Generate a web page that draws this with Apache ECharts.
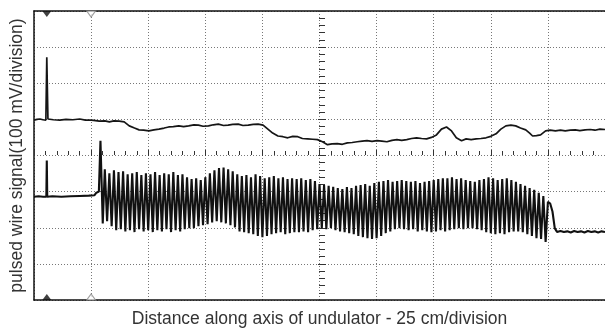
<!DOCTYPE html>
<html>
<head>
<meta charset="utf-8">
<script src="https://cdn.jsdelivr.net/npm/echarts@6/dist/echarts.min.js"></script>
<style>
  html, body { margin: 0; padding: 0; background: #fff; }
  #chart { width: 605px; height: 333px; }
</style>
</head>
<body>
<div id="chart"></div>
<script>
// x in cm along the undulator (25 cm/division), y in mV (100 mV/division)

// upper trace
const upperTrace = [
  [0, 98], [1.3, 100], [2.6, 101], [3.9, 99], [5.2, 98], [5.6, 272], [6.1, 101], [8.5, 99], [11.3, 98],
  [14, 100], [17, 99], [20, 101], [22.5, 98], [25.2, 98], [28.6, 95], [31, 96], [33, 93], [35, 96],
  [37.3, 95], [39.5, 93], [41.7, 82], [44, 76], [46, 71], [48, 70], [50.3, 68], [52.5, 71], [54.7, 73],
  [57, 76], [59, 79], [61, 80], [63.4, 82], [65.5, 80], [67.7, 82], [70, 85], [72, 84], [74, 81],
  [76.4, 82], [78.5, 85], [80.7, 87], [83, 83], [85, 84], [87, 86], [89.4, 87], [91.5, 83], [93.8, 84],
  [96, 86], [98.1, 87], [100.3, 84], [102.4, 73], [104.5, 62], [106.8, 54], [109, 52], [111.1, 49],
  [113.3, 53], [115.5, 52], [117.5, 47], [119.8, 46], [122, 45], [124.1, 44], [126.3, 38], [128.5, 30],
  [130.5, 32], [132.8, 33], [135, 31], [137.2, 35], [139.3, 36], [141.5, 38], [143.7, 40], [145.8, 41],
  [148, 39], [150.2, 41], [152.3, 40], [154.5, 38], [156.7, 42], [158.9, 44], [161, 42], [163.2, 44],
  [165.3, 47], [167.5, 49], [169.7, 47], [171.9, 46], [174, 50], [176.2, 57], [178.4, 73], [180.6, 79],
  [182.8, 68], [184.9, 49], [187.2, 41], [189.2, 46], [191.4, 44], [193.6, 46], [195.7, 47], [197.9, 49],
  [200, 53], [202.3, 60], [204.4, 73], [206.6, 82], [208.8, 84], [210.9, 82], [213, 76], [215.3, 71],
  [217, 62], [218.3, 54], [220, 55], [221.8, 57], [224, 68], [226, 70], [228.3, 68], [230.5, 70],
  [232.6, 68], [234.8, 70], [237, 71], [239, 69], [241.3, 71], [243.5, 72], [245.6, 70], [247.8, 73], [250, 72]
];

// lower trace before the field region
const lowerHead = [
  [0, -114], [2, -113], [4, -114], [5.4, -114], [5.6, -14], [5.8, -114], [8, -113], [12, -114],
  [16, -113], [20, -112], [24, -111], [26.5, -110], [27.3, -103], [28.4, -100], [29.1, 41], [30.1, -188]
];

// lower trace oscillation, one top and one bottom per undulator period
const oscStart = 31;
const oscPeriod = 2;
const oscTops = [
  -38, -49, -41, -46, -44, -52,
  -49, -46, -54, -49, -52,
  -46, -54, -49, -52, -46, -54, -52, -60,
  -65, -63, -68, -60,
  -49, -41, -35, -33, -38, -44,
  -52, -57, -54, -60, -52, -57, -63,
  -60, -57, -63, -60, -65, -63,
  -65, -63, -68, -65, -71,
  -79, -82, -84, -87,
  -90, -93, -87, -90, -84,
  -82, -79, -84, -76, -73,
  -71, -68, -73, -71, -68, -71, -73, -71, -76,
  -73, -71, -68, -65, -63,
  -63, -60, -65, -63, -68,
  -71, -73, -68, -65, -60,
  -63, -68, -65, -63, -68,
  -73, -79, -84, -90,
  -95, -103, -112
];
const oscBottoms = [
  -182, -196,
  -207, -204, -210, -207, -212, -204, -210, -207, -212,
  -207, -210, -204, -212, -207, -210, -204, -201,
  -201, -196, -193, -190,
  -185, -182, -185, -188, -193, -199,
  -210, -212, -215, -218, -223,
  -226, -223,
  -218, -215, -212, -218, -215, -212,
  -212, -210, -212, -207, -204,
  -201, -204, -201, -207,
  -210, -212, -215, -218, -223,
  -226, -229, -231, -229, -223,
  -215, -210, -204, -201, -204, -207, -204, -210, -207,
  -210, -212, -210, -207, -210,
  -207, -204, -201, -204, -201,
  -201, -204, -207, -212, -215,
  -218, -215, -218, -212, -210,
  -210, -212, -218, -223,
  -229, -231, -239
];

// lower trace after the field region
const lowerTail = [
  [225, -128], [226, -133], [227, -155], [228, -201], [229, -212], [230.5, -209], [232, -212],
  [233.5, -210], [235, -213], [236.5, -209], [238, -212], [239.5, -210], [241, -213], [242.5, -209],
  [244, -212], [245.5, -210], [247, -213], [248.5, -210], [250, -212]
];

// cursor markers on the frame
const markersFilled = [[5.6, 400]];
const markersHollow = [[25, 400]];
const markersFilledBottom = [[5.6, -400]];
const markersHollowBottom = [[25, -400]];

const lowerTrace = lowerHead.slice();
oscTops.forEach((top, i) => {
  lowerTrace.push([oscStart + i * oscPeriod, top]);
  lowerTrace.push([oscStart + i * oscPeriod + oscPeriod / 2, oscBottoms[i]]);
});
lowerTail.forEach(p => lowerTrace.push(p));

const chart = echarts.init(document.getElementById('chart'), null, { renderer: 'canvas' });

const gridDots = { show: true, lineStyle: { color: '#777', width: 1, type: [1, 2] } };
const xRange = { type: 'value', min: 0, max: 250, interval: 25 };
const yRange = { type: 'value', min: -400, max: 400, interval: 100 };
const titleFont = { fontFamily: 'Liberation Sans', fontSize: 17.5, color: '#333' };

chart.setOption({
  animation: false,
  backgroundColor: '#fff',
  grid: { left: 34, top: 11, right: -5, bottom: 28 },
  xAxis: [
    Object.assign({}, xRange, {
      position: 'bottom',
      name: 'Distance along axis of undulator - 25 cm/division',
      nameLocation: 'middle',
      nameGap: 10,
      nameTextStyle: titleFont,
      axisLine: { onZero: false, lineStyle: { color: '#111', width: 1.5 } },
      axisTick: { show: false },
      axisLabel: { show: false },
      splitLine: gridDots
    }),
    Object.assign({}, xRange, {
      position: 'top',
      axisLine: { onZero: false, lineStyle: { color: '#111', width: 1.5 } },
      axisTick: { show: false },
      axisLabel: { show: false },
      splitLine: { show: false }
    }),
    Object.assign({}, xRange, {
      position: 'bottom',
      offset: -147,
      axisLine: { show: false, onZero: false },
      axisTick: { show: true, inside: true, length: 3, lineStyle: { color: '#333' } },
      minorTick: { show: true, splitNumber: 5, length: 2, lineStyle: { color: '#333' } },
      axisLabel: { show: false },
      splitLine: { show: false }
    }),
    Object.assign({}, xRange, {
      position: 'bottom',
      offset: -147,
      axisLine: { show: false, onZero: false },
      axisTick: { show: true, inside: false, length: 3, lineStyle: { color: '#333' } },
      minorTick: { show: true, splitNumber: 5, length: 2, lineStyle: { color: '#333' } },
      axisLabel: { show: false },
      splitLine: { show: false }
    })
  ],
  yAxis: [
    Object.assign({}, yRange, {
      position: 'left',
      name: 'pulsed wire signal(100 mV/division)',
      nameLocation: 'middle',
      nameGap: 8,
      nameTextStyle: titleFont,
      axisLine: { show: true, onZero: false, lineStyle: { color: '#111', width: 1.5 } },
      axisTick: { show: false },
      axisLabel: { show: false },
      splitLine: gridDots
    }),
    Object.assign({}, yRange, {
      position: 'left',
      offset: -288,
      axisLine: { show: false, onZero: false },
      axisTick: { show: true, inside: true, length: 4, lineStyle: { color: '#333' } },
      minorTick: { show: true, splitNumber: 5, length: 3, lineStyle: { color: '#333' } },
      axisLabel: { show: false },
      splitLine: { show: false }
    }),
    Object.assign({}, yRange, {
      position: 'left',
      offset: -288,
      axisLine: { show: false, onZero: false },
      axisTick: { show: true, inside: false, length: 4, lineStyle: { color: '#333' } },
      minorTick: { show: true, splitNumber: 5, length: 3, lineStyle: { color: '#333' } },
      axisLabel: { show: false },
      splitLine: { show: false }
    })
  ],
  series: [
    {
      name: 'upper',
      type: 'line',
      data: upperTrace,
      symbol: 'none',
      lineStyle: { color: '#151515', width: 1.7 }
    },
    {
      name: 'lower',
      type: 'line',
      data: lowerTrace,
      symbol: 'none',
      lineStyle: { color: '#111', width: 2.1 }
    },
    {
      type: 'scatter', data: markersFilled, clip: false, symbol: 'triangle', symbolRotate: 180,
      symbolSize: [9, 6], symbolOffset: [0, 3], itemStyle: { color: '#111' }
    },
    {
      type: 'scatter', data: markersHollow, clip: false, symbol: 'triangle', symbolRotate: 180,
      symbolSize: [9, 6], symbolOffset: [0, 3], itemStyle: { color: '#fff', borderColor: '#888', borderWidth: 1 }
    },
    {
      type: 'scatter', data: markersFilledBottom, clip: false, symbol: 'triangle',
      symbolSize: [9, 6], symbolOffset: [0, -3], itemStyle: { color: '#111' }
    },
    {
      type: 'scatter', data: markersHollowBottom, clip: false, symbol: 'triangle',
      symbolSize: [9, 6], symbolOffset: [0, -3], itemStyle: { color: '#fff', borderColor: '#888', borderWidth: 1 }
    }
  ]
});
</script>
</body>
</html>
